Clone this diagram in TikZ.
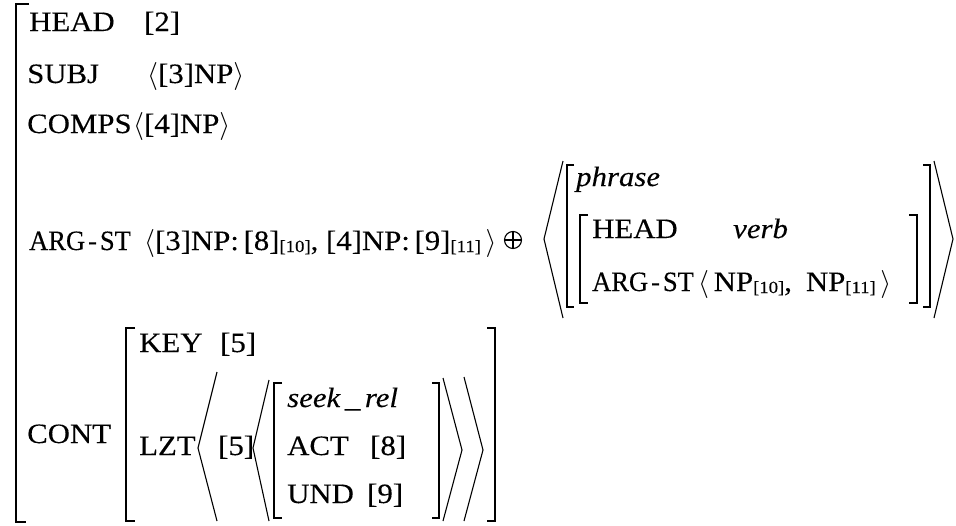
\documentclass[tikz,border=0pt]{standalone}
\usepackage{fix-cm}
\usepackage{graphicx}
\usepackage{fontspec}
\setmainfont{Liberation Serif}[FakeStretch=1.1,FakeBold=0.25]
\newcommand\sbx[1]{\raisebox{-2pt}{\fontsize{17}{20}\selectfont #1}}
\newcommand\argst{\scalebox{0.86}[1]{ARG\kern3.5pt-\kern3.5pt ST}}
\begin{document}
\begin{tikzpicture}[x=1pt,y=-1pt,
  txt/.style={anchor=base west, inner sep=0pt, font=\fontsize{28}{34}\selectfont},
  itx/.style={anchor=base west, inner sep=0pt, font=\fontsize{28}{34}\selectfont\itshape},
  brk/.style={line width=1.6pt, line cap=butt, line join=miter},
  ang/.style={line width=1.1pt, line join=miter},
  oplusnode/.style={circle, draw, line width=1.1pt, minimum size=17pt, inner sep=0pt}]
\useasboundingbox (0,0) rectangle (956,525);
% outer bracket
\draw[brk] (29,4) -- (16,4) -- (16,522) -- (26,522);
% top rows
\node[txt] (h1) at (29,31) {HEAD};
\node[txt] (h1v) at (144,31) {[2]};
\node[txt] (s1) at (27,83) {SUBJ};
\node[txt] (s1v) at (147,83) {$\langle$[3]NP$\rangle$};
\node[txt] (c1) at (27,133) {COMPS};
\node[txt] (c1v) at (133,133) {$\langle$[4]NP$\rangle$};
% ARG-ST row
\node[txt] (a1) at (29,250) {\argst};
\node[txt] (a1v) at (144,250) {$\langle$[3]NP:\,[8]\sbx{[10]}, [4]NP:\,[9]\sbx{[11]}\,$\rangle$};
\node[oplusnode] (op) at (513,240) {};
\draw[line width=1.1pt] (op.north) -- (op.south) (op.west) -- (op.east);
% phrase list
\draw[ang] (563,161) -- (544,239) -- (563,318);
\draw[brk] (574,165) -- (567,165) -- (567,307) -- (574,307);
\draw[brk] (588,215) -- (580,215) -- (580,303) -- (588,303);
\draw[brk] (909,215) -- (917,215) -- (917,303) -- (909,303);
\draw[brk] (923,165) -- (930,165) -- (930,307) -- (923,307);
\draw[ang] (934,161) -- (953,239) -- (934,318);
\node[itx] (ph) at (576,186) {phrase};
\node[txt] (h2) at (592,238) {HEAD};
\node[itx] (h2v) at (733,238) {verb};
\node[txt] (a2) at (592,291) {\argst};
\node[txt] (a2v) at (698,291) {$\langle$\,NP\sbx{[10]},\enspace NP\sbx{[11]}\,$\rangle$};
% CONT
\node[txt] (ct) at (27,443) {CONT};
\draw[brk] (135,328) -- (126,328) -- (126,521) -- (135,521);
\draw[brk] (487,328) -- (495,328) -- (495,521) -- (487,521);
\node[txt] (k) at (139,352) {KEY};
\node[txt] (kv) at (220,352) {[5]};
\node[txt] (lz) at (139,455) {LZT};
\draw[ang] (217,372) -- (198,448) -- (217,521);
\node[txt] (lzv) at (218,455) {[5]};
\draw[ang] (269,380) -- (253,448) -- (269,521);
\draw[brk] (282,383) -- (274,383) -- (274,518) -- (282,518);
\draw[brk] (432,383) -- (439,383) -- (439,518) -- (432,518);
\draw[ang] (443,378) -- (462,450) -- (443,521);
\draw[ang] (464,377) -- (483,450) -- (464,521);
\node[itx] (sr) at (287,407) {seek\,\_\,rel};
\node[txt] (ac) at (287,455) {ACT};
\node[txt] (acv) at (370,455) {[8]};
\node[txt] (un) at (287,503) {UND};
\node[txt] (unv) at (367,503) {[9]};
\end{tikzpicture}
\end{document}
